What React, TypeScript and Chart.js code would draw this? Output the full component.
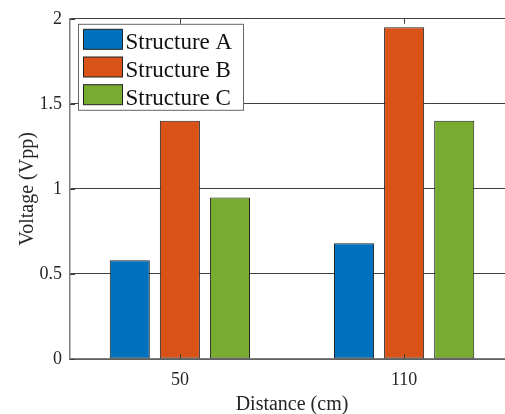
import React, { useEffect, useRef } from 'react';
import { Chart, registerables } from 'chart.js';

Chart.register(...registerables);

const categories = ['50', '110'];
const seriesNames = ['Structure A', 'Structure B', 'Structure C'];
const structureA = [0.58, 0.68];
const structureB = [1.4, 1.95];
const structureC = [0.95, 1.4];
const yTicks = [0, 0.5, 1, 1.5, 2];
const yTickLabels = ['0', '0.5', '1', '1.5', '2'];
const seriesColors = ['#0072BD', '#D95319', '#77AC30'];

const SERIF = '"Liberation Serif", "Times New Roman", serif';

const insideTicks = {
  id: 'insideTicks',
  afterDatasetsDraw(chart: any) {
    const ctx = chart.ctx;
    const area = chart.chartArea;
    const xs = chart.scales.x;
    const ys = chart.scales.y;
    ctx.save();
    ctx.strokeStyle = '#404040';
    ctx.lineWidth = 1;
    ctx.beginPath();
    xs.ticks.forEach((t: any) => {
      const px = Math.round(xs.getPixelForValue(t.value)) + 0.5;
      ctx.moveTo(px, area.bottom);
      ctx.lineTo(px, area.bottom - 5);
      ctx.moveTo(px, area.top);
      ctx.lineTo(px, area.top + 5);
    });
    ys.ticks.forEach((t: any) => {
      const py = Math.round(ys.getPixelForValue(t.value)) + 0.5;
      ctx.moveTo(area.left, py);
      ctx.lineTo(area.left + 5, py);
    });
    ctx.stroke();
    ctx.restore();
  },
};

const boxedLegend = {
  id: 'boxedLegend',
  afterDraw(chart: any) {
    const ctx = chart.ctx;
    const area = chart.chartArea;
    const bx = area.left + 8.5;
    const by = area.top + 5.5;
    const bw = 165;
    const bh = 86;
    const pitch = 27.7;
    ctx.save();
    ctx.fillStyle = '#ffffff';
    ctx.fillRect(bx, by, bw, bh);
    ctx.strokeStyle = '#666666';
    ctx.lineWidth = 1;
    ctx.strokeRect(bx, by, bw, bh);
    chart.data.datasets.forEach((ds: any, i: number) => {
      const sy = by + 5 + i * pitch;
      ctx.fillStyle = ds.backgroundColor;
      ctx.fillRect(bx + 5, sy, 39, 20);
      ctx.strokeStyle = '#222222';
      ctx.strokeRect(bx + 5, sy, 39, 20);
      ctx.fillStyle = '#111111';
      ctx.font = `23px ${SERIF}`;
      ctx.textBaseline = 'alphabetic';
      ctx.textAlign = 'left';
      ctx.fillText(ds.label, bx + 47, sy + 20);
    });
    ctx.restore();
  },
};

export default function App() {
  const canvasRef = useRef<HTMLCanvasElement | null>(null);

  useEffect(() => {
    document.body.style.margin = '0';
    const canvas = canvasRef.current;
    if (!canvas) return;
    const seriesData = [structureA, structureB, structureC];
    const chart = new Chart(canvas, {
      type: 'bar',
      data: {
        datasets: seriesData.map((vals, k) => ({
          label: seriesNames[k],
          data: vals.map((v, i) => ({ x: i + 1, y: v })),
          backgroundColor: seriesColors[k],
          borderColor: '#222222',
          borderWidth: 1,
          borderSkipped: false,
          categoryPercentage: 0.67,
          barPercentage: 0.8,
        })),
      },
      options: {
        animation: false,
        responsive: false,
        devicePixelRatio: 1,
        layout: { padding: { top: 18, right: 6, left: 0, bottom: 0 } },
        plugins: {
          legend: { display: false },
          tooltip: { enabled: false },
        },
        scales: {
          x: {
            type: 'linear',
            min: 0.51,
            max: 2.49,
            offset: false,
            afterBuildTicks: (s: any) => {
              s.ticks = categories.map((_, i) => ({ value: i + 1 }));
            },
            afterFit: (s: any) => {
              s.height = 55;
            },
            ticks: {
              callback: (v: any) => categories[Number(v) - 1] ?? '',
              font: { family: SERIF, size: 18 },
              color: '#262626',
              padding: 10,
              maxRotation: 0,
            },
            grid: { display: false, drawTicks: false },
            border: { display: true, color: '#808080', width: 1.5 },
            title: {
              display: true,
              text: 'Distance (cm)',
              font: { family: SERIF, size: 20, lineHeight: 1 },
              color: '#262626',
              padding: { top: 0, bottom: -1 },
            },
          },
          y: {
            type: 'linear',
            min: 0,
            max: 2,
            afterBuildTicks: (s: any) => {
              s.ticks = yTicks.map((v) => ({ value: v }));
            },
            afterFit: (s: any) => {
              s.width = 70;
            },
            ticks: {
              callback: (v: any) => {
                const idx = yTicks.indexOf(Number(v));
                return idx >= 0 ? yTickLabels[idx] : '';
              },
              font: { family: SERIF, size: 18 },
              color: '#262626',
              padding: 8,
            },
            grid: { color: '#404040', lineWidth: 1, drawTicks: false },
            border: { display: true, color: '#808080', width: 1.5 },
            title: {
              display: true,
              text: 'Voltage (Vpp)',
              font: { family: SERIF, size: 20, lineHeight: 1 },
              color: '#262626',
              padding: { top: 18, bottom: 0 },
            },
          },
        },
      },
      plugins: [insideTicks, boxedLegend],
    });
    return () => chart.destroy();
  }, []);

  return (
    <div style={{ width: 505, height: 414, overflow: 'hidden', background: '#fff' }}>
      <canvas ref={canvasRef} width={520} height={414} style={{ width: 520, height: 414, display: 'block' }} />
    </div>
  );
}
